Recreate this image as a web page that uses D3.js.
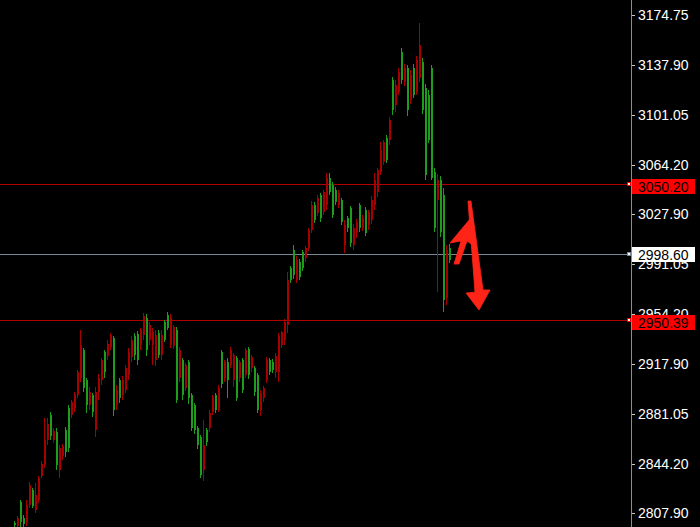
<!DOCTYPE html>
<html><head><meta charset="utf-8">
<script src="https://cdn.jsdelivr.net/npm/d3@7"></script>
<style>html,body{margin:0;padding:0;background:#000;}svg{display:block;}</style>
</head><body>
<script>
// ---- data (price units) ----
const opens  = [2800.5,2798.3,2816.0,2804.2,2801.3,2813.8,2824.8,2810.1,2817.5,2835.1,2843.2,2861.7,2880.1,2861.7,2867.5,2839.6,2849.9,2869.0,2885.2,2880.1,2885.2,2894.8,2907.3,2928.0,2905.9,2887.4,2894.8,2869.0,2897.0,2905.9,2926.5,2923.5,2930.2,2936.8,2887.4,2905.9,2894.8,2898.5,2909.5,2922.8,2938.3,2939.7,2931.6,2939.0,2951.5,2935.3,2931.6,2920.6,2940.5,2924.3,2948.6,2953.7,2931.6,2930.9,2942.7,2907.3,2920.6,2900.0,2919.1,2894.8,2887.4,2870.5,2863.9,2839.6,2869.0,2870.5,2882.3,2894.8,2883.8,2926.5,2907.3,2919.1,2916.9,2905.9,2922.1,2907.3,2920.6,2909.5,2928.7,2914.7,2914.7,2909.5,2883.8,2892.6,2905.9,2920.6,2919.1,2911.8,2911.8,2931.6,2935.3,2946.4,2988.4,3001.6,2979.5,2992.8,3000.1,2995.7,3003.1,3016.4,3034.8,3028.9,3042.2,3029.6,3034.8,3054.7,3049.5,3045.9,3034.8,3038.5,3005.3,3025.1,3032.6,3005.3,3014.2,3034.8,3017.8,3031.1,3020.0,3023.7,3034.8,3044.4,3059.1,3066.5,3084.2,3082.7,3126.9,3108.4,3118.0,3147.5,3125.4,3135.7,3112.1,3135.7,3118.0,3128.3,3140.1,3121.0,3115.8,3135.7,3059.1,3038.5,3053.2,3042.2,2966.3,3003.1];
const highs  = [2802.0,2805.7,2817.5,2806.4,2817.5,2830.7,2826.3,2830.0,2835.1,2846.2,2877.9,2877.9,2882.3,2870.5,2870.5,2857.9,2858.7,2871.2,2887.4,2891.1,2897.0,2913.2,2942.7,2929.4,2907.3,2900.7,2896.3,2900.7,2910.3,2922.1,2928.0,2935.3,2940.5,2938.3,2902.2,2907.3,2908.8,2916.9,2929.4,2938.3,2940.5,2942.0,2944.2,2955.2,2954.5,2948.6,2944.2,2942.7,2942.7,2942.7,2950.1,2955.9,2954.5,2946.4,2944.9,2930.2,2922.1,2918.4,2920.6,2896.3,2888.9,2872.0,2865.3,2876.4,2870.5,2883.8,2894.8,2896.3,2902.2,2928.0,2920.6,2922.1,2930.2,2925.8,2923.5,2920.6,2922.1,2929.4,2930.2,2924.3,2916.2,2911.0,2898.5,2901.4,2922.8,2922.1,2921.3,2925.8,2940.5,2942.0,2950.8,2985.4,2989.8,3005.3,2997.2,2995.0,3001.6,3004.6,3017.8,3037.7,3037.0,3042.2,3043.7,3045.9,3058.4,3058.4,3051.7,3048.0,3045.9,3039.9,3023.7,3026.5,3034.1,3020.7,3024.5,3036.3,3027.4,3033.3,3031.1,3041.5,3058.4,3062.0,3081.2,3082.7,3086.4,3099.6,3129.1,3126.9,3135.7,3150.4,3138.7,3137.9,3134.2,3138.7,3144.5,3168.9,3143.1,3123.9,3119.5,3137.9,3062.0,3057.6,3056.1,3047.3,3005.3,3006.0];
const lows   = [2797.6,2797.6,2797.6,2797.6,2798.3,2811.6,2811.6,2807.9,2815.2,2833.7,2841.0,2858.0,2861.7,2859.4,2839.6,2833.7,2846.9,2849.1,2852.8,2877.9,2882.3,2892.6,2904.4,2897.0,2881.5,2883.8,2878.6,2863.9,2891.1,2902.2,2907.3,2920.6,2928.0,2879.3,2883.8,2888.9,2891.1,2896.3,2905.9,2919.1,2920.6,2916.9,2928.0,2935.3,2923.5,2931.6,2916.9,2916.2,2922.1,2920.6,2933.9,2942.7,2929.4,2928.7,2888.9,2904.4,2891.1,2897.8,2888.2,2868.3,2866.1,2855.0,2833.7,2831.5,2857.2,2867.5,2880.1,2881.5,2882.3,2900.0,2904.4,2892.6,2914.7,2900.7,2890.4,2904.4,2896.3,2907.3,2906.6,2911.8,2894.1,2881.5,2879.3,2889.6,2903.7,2909.5,2911.0,2907.3,2904.4,2929.4,2931.6,2940.5,2977.3,2980.3,2977.3,2979.5,2986.3,2992.8,3000.9,3014.2,3021.5,3026.5,3022.3,3027.3,3031.1,3042.2,3025.1,3034.8,3032.6,3020.0,2999.1,3014.9,3003.8,3001.6,3010.5,3014.9,3015.6,3012.0,3016.4,3020.7,3031.1,3040.7,3056.9,3064.2,3065.7,3079.0,3101.1,3103.6,3115.8,3123.9,3122.4,3100.4,3109.5,3113.6,3115.8,3125.4,3101.8,3053.2,3080.5,3053.2,3014.9,2970.7,3011.3,2955.9,2961.1,2992.1];
const closes = [2799.0,2804.2,2801.2,2799.8,2813.8,2828.5,2813.0,2821.1,2833.7,2844.0,2861.7,2873.4,2864.6,2868.3,2843.2,2855.8,2857.2,2852.8,2855.8,2889.6,2895.5,2911.8,2931.6,2900.0,2887.4,2897.0,2882.3,2897.0,2907.3,2920.6,2911.8,2932.4,2939.0,2883.8,2898.5,2892.6,2905.9,2914.7,2926.5,2935.3,2924.3,2920.6,2942.7,2953.0,2928.0,2946.4,2941.2,2939.0,2924.3,2939.0,2935.3,2944.2,2951.5,2944.9,2891.1,2928.0,2894.8,2916.9,2892.6,2870.5,2869.0,2858.0,2835.9,2858.0,2860.2,2881.5,2893.3,2883.8,2900.0,2902.9,2919.1,2905.9,2928.0,2924.3,2892.6,2919.1,2898.5,2928.0,2909.5,2922.8,2897.0,2883.8,2896.3,2900.0,2920.6,2911.8,2913.2,2923.5,2938.3,2941.2,2948.6,2979.5,2979.5,2983.2,2994.3,2981.8,2988.4,3003.1,3016.4,3034.8,3023.7,3039.9,3025.1,3044.4,3054.7,3044.4,3027.4,3037.0,3043.7,3022.3,3020.0,3017.8,3006.8,3017.8,3022.3,3017.8,3025.1,3014.2,3029.6,3038.5,3053.2,3060.6,3075.3,3081.2,3068.0,3097.4,3104.8,3123.2,3132.8,3126.9,3135.7,3104.8,3130.5,3115.8,3141.6,3152.6,3104.8,3056.9,3082.7,3054.7,3017.8,3053.2,3014.9,2964.8,3001.6,2994.3];

const tickLabels = ["3174.75","3137.90","3101.05","3064.20","3027.90","2991.05","2954.20","2917.90","2881.05","2844.20","2807.90"];
const redLevels = [3050.20, 2950.39];
const bidLevel = 2998.60;

// annotation arrows in (bar index, price)
const arrowUp   = [[146.67,2991.3],[149.0,3008.3],[145.33,3006.8],[152.0,3024.5],[153.33,3004.6],[151.0,3008.3],[148.33,2991.3]];
const arrowDown = [[151.33,3037.7],[152.33,3037.7],[156.33,2972.2],[158.67,2972.2],[155.0,2957.4],[150.67,2969.9],[153.67,2970.6]];

// ---- drawing ----
const W = 700, H = 527, axisX = 631;
const FONT = "14px 'Liberation Sans', Arial, sans-serif";
const svg = d3.select("body").append("svg").attr("width", W).attr("height", H)
  .style("background", "#000");

const y = d3.scaleLinear().domain([2807.90, 3174.75]).range([513, 15]);
const x = d3.scaleLinear().domain([0, 145]).range([14, 449]);

svg.append("defs").append("clipPath").attr("id", "plot")
  .append("rect").attr("x", 0).attr("y", 0).attr("width", axisX).attr("height", H);

const plot = svg.append("g").attr("clip-path", "url(#plot)");

// level lines
plot.selectAll("line.lvl").data(redLevels).join("line")
  .attr("x1", 0).attr("x2", axisX - 2)
  .attr("y1", d => Math.round(y(d)) + 0.5).attr("y2", d => Math.round(y(d)) + 0.5)
  .attr("stroke", "#b00000").attr("stroke-width", 1);
plot.append("line")
  .attr("x1", 0).attr("x2", axisX - 2)
  .attr("y1", Math.round(y(bidLevel)) + 0.5).attr("y2", Math.round(y(bidLevel)) + 0.5)
  .attr("stroke", "#778899").attr("stroke-width", 1);

// candles
const idx = d3.range(opens.length);
const up = i => closes[i] >= opens[i];
const col = i => up(i) ? "#a80000" : "#1c9e1c";
const cg = plot.append("g").attr("shape-rendering", "crispEdges");
cg.selectAll("rect.wick").data(idx).join("rect")
  .attr("x", i => Math.round(x(i)))
  .attr("width", 1)
  .attr("y", i => Math.round(y(highs[i])))
  .attr("height", i => Math.max(1, Math.round(y(lows[i])) - Math.round(y(highs[i]))))
  .attr("fill", col);
cg.selectAll("rect.body").data(idx).join("rect")
  .attr("x", i => Math.round(x(i)))
  .attr("width", 2)
  .attr("y", i => Math.round(y(Math.max(opens[i], closes[i]))))
  .attr("height", i => Math.max(1, Math.round(y(Math.min(opens[i], closes[i]))) - Math.round(y(Math.max(opens[i], closes[i])))))
  .attr("fill", col);

// arrows
const line = d3.line().x(d => x(d[0])).y(d => y(d[1]));
[arrowUp, arrowDown].forEach(a => {
  plot.append("path").attr("d", line(a) + "Z").attr("fill", "#ff2418").attr("stroke", "#ff2418")
    .attr("stroke-width", 0.8).attr("stroke-linejoin", "round");
});

// right axis
svg.append("line").attr("x1", axisX + 0.5).attr("x2", axisX + 0.5).attr("y1", 0).attr("y2", H)
  .attr("stroke", "#8c8c8c");
const ax = svg.append("g");
tickLabels.forEach(t => {
  const yy = Math.round(y(+t));
  ax.append("line").attr("x1", axisX + 1).attr("x2", axisX + 4).attr("y1", yy + 0.5).attr("y2", yy + 0.5)
    .attr("stroke", "#c8c8c8");
  ax.append("text").attr("x", 638).attr("y", yy).attr("dy", "0.36em")
    .attr("fill", "#ffffff").style("font", FONT).text(t);
});

// price labels
function priceLabel(v, bg, offs) {
  const yy = Math.round(y(v));
  svg.append("rect").attr("x", axisX + 1).attr("y", yy - 6 + offs).attr("width", 63).attr("height", 15)
    .attr("fill", bg);
  svg.append("text").attr("x", 638).attr("y", yy + 1.5 + offs).attr("dy", "0.36em")
    .attr("fill", "#000").style("font", FONT).text(v.toFixed(2));
  svg.append("rect").attr("x", axisX - 3.5).attr("y", yy - 1.5).attr("width", 3).attr("height", 3)
    .attr("fill", "#fff").attr("stroke", bg === "#ffffff" ? "#778899" : "#ff0000").attr("stroke-width", 1);
}
redLevels.forEach(v => priceLabel(v, "#ff0000", 1));
priceLabel(bidLevel, "#ffffff", -1);
</script>
</body></html>
